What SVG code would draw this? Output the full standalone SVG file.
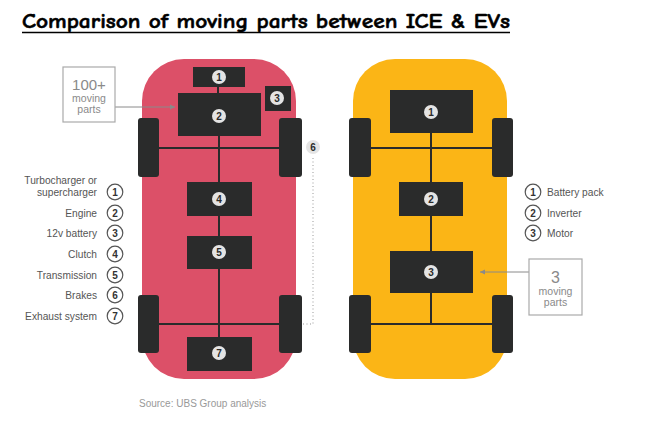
<svg xmlns="http://www.w3.org/2000/svg" width="653" height="435" viewBox="0 0 653 435">
<defs>
<style>
.title{font-family:"Comic Sans MS","Comic Neue","DejaVu Sans",sans-serif;font-weight:bold;font-size:20px;fill:#000;stroke:#000;stroke-width:0.5}
.blk{fill:#2a2b2b}
.whl{fill:#2a2b2b}
.ln{stroke:#2a2b2b;stroke-width:2;fill:none}
.ic{fill:#e4e4e4}
.it{font-family:"Liberation Sans",Arial,sans-serif;font-weight:bold;font-size:10px;fill:#2a2b2b;text-anchor:middle}
.lc{fill:#fff;stroke:#555;stroke-width:1.2}
.lt{font-family:"Liberation Sans",Arial,sans-serif;font-weight:bold;font-size:10px;fill:#333;text-anchor:middle}
.lab{font-family:"Liberation Sans",Arial,sans-serif;font-size:10.2px;fill:#555}
.note{font-family:"Liberation Sans",Arial,sans-serif;fill:#8a8a8a;text-anchor:middle}
.nbox{fill:#fff;stroke:#aaa;stroke-width:1.2}
.arr{stroke:#8a8a8a;stroke-width:1;fill:none}
</style>
<marker id="ah" viewBox="0 0 6 6" refX="5" refY="3" markerWidth="6" markerHeight="6" orient="auto">
<path d="M0,0.5 L5,3 L0,5.5 Z" fill="#8a8a8a"/>
</marker>
</defs>
<rect width="653" height="435" fill="#fff"/>
<g id="title">
<text class="title" x="22" y="28" textLength="488" lengthAdjust="spacingAndGlyphs">Comparison of moving parts between ICE &amp; EVs</text>
<line x1="22" y1="32.5" x2="510" y2="32.5" stroke="#000" stroke-width="1.5"/>
</g>

<g id="ice-car">
<rect x="142" y="59" width="154" height="320" rx="42" ry="42" fill="#dc5068"/>
</g>
<g id="ev-car">
<rect x="353" y="59" width="154" height="320" rx="42" ry="42" fill="#fbb516"/>
</g>

<g id="connectors">
<line class="ln" x1="218" y1="87" x2="218" y2="93"/>
<line class="ln" x1="219" y1="136" x2="219" y2="337"/>
<line class="ln" x1="159" y1="148" x2="279" y2="148"/>
<line class="ln" x1="159" y1="324" x2="279" y2="324"/>
<line class="ln" x1="431" y1="133" x2="431" y2="324"/>
<line class="ln" x1="371" y1="148" x2="492" y2="148"/>
<line class="ln" x1="371" y1="324" x2="492" y2="324"/>
<path d="M313,158 V324 H303" stroke="#999" stroke-width="1" stroke-dasharray="1,2.5" fill="none"/>
<line class="arr" x1="115" y1="107" x2="175" y2="107" marker-end="url(#ah)"/>
<line class="arr" x1="529" y1="272" x2="480" y2="272" marker-end="url(#ah)"/>
</g>

<g id="ice-wheels">
<rect class="whl" x="138" y="118" width="21" height="59" rx="3"/>
<rect class="whl" x="279" y="118" width="23" height="59" rx="3"/>
<rect class="whl" x="138" y="295" width="21" height="58" rx="3"/>
<rect class="whl" x="279" y="295" width="23" height="58" rx="3"/>
</g>
<g id="ice-1"><rect class="blk" x="193" y="67" width="52" height="20"/><circle class="ic" cx="219" cy="77" r="7"/><text class="it" x="219" y="80.5">1</text></g>
<g id="ice-2"><rect class="blk" x="178" y="93" width="83" height="43"/><circle class="ic" cx="219" cy="116" r="7"/><text class="it" x="219" y="119.5">2</text></g>
<g id="ice-3"><rect class="blk" x="265" y="86" width="26" height="25"/><circle class="ic" cx="277" cy="98" r="7"/><text class="it" x="277" y="101.5">3</text></g>
<g id="ice-4"><rect class="blk" x="187" y="182" width="65" height="34"/><circle class="ic" cx="219" cy="199" r="7"/><text class="it" x="219" y="202.5">4</text></g>
<g id="ice-5"><rect class="blk" x="187" y="236" width="65" height="33"/><circle class="ic" cx="219" cy="252" r="7"/><text class="it" x="219" y="255.5">5</text></g>
<g id="ice-7"><rect class="blk" x="187" y="337" width="65" height="34"/><circle class="ic" cx="219" cy="353" r="7"/><text class="it" x="219" y="356.5">7</text></g>
<g id="ice-6"><circle class="ic" cx="313" cy="147" r="7"/><text class="it" x="313" y="150.5">6</text></g>

<g id="ev-wheels">
<rect class="whl" x="349" y="118" width="22" height="59" rx="3"/>
<rect class="whl" x="492" y="118" width="21" height="59" rx="3"/>
<rect class="whl" x="349" y="295" width="22" height="58" rx="3"/>
<rect class="whl" x="492" y="295" width="21" height="58" rx="3"/>
</g>
<g id="ev-1"><rect class="blk" x="390" y="90" width="83" height="43"/><circle class="ic" cx="431" cy="112" r="7"/><text class="it" x="431" y="115.5">1</text></g>
<g id="ev-2"><rect class="blk" x="399" y="182" width="64" height="34"/><circle class="ic" cx="431" cy="199" r="7"/><text class="it" x="431" y="202.5">2</text></g>
<g id="ev-3"><rect class="blk" x="390" y="251" width="83" height="42"/><circle class="ic" cx="431" cy="272" r="7"/><text class="it" x="431" y="275.5">3</text></g>

<g id="note-100">
<rect class="nbox" x="63" y="67" width="52" height="55"/>
<text class="note" x="89" y="90" font-size="15">100+</text>
<text class="note" x="89" y="101.5" font-size="10.5">moving</text>
<text class="note" x="89" y="112.5" font-size="10.5">parts</text>
</g>
<g id="note-3">
<rect class="nbox" x="529" y="259" width="53" height="56"/>
<text class="note" x="555.5" y="283" font-size="16">3</text>
<text class="note" x="555.5" y="294.5" font-size="10.5">moving</text>
<text class="note" x="555.5" y="305.5" font-size="10.5">parts</text>
</g>

<g id="legend-ice">
<text class="lab" x="97" y="184" text-anchor="end">Turbocharger or</text>
<text class="lab" x="97" y="195.5" text-anchor="end">supercharger</text>
<circle class="lc" cx="115" cy="192" r="7.8"/><text class="lt" x="115" y="195.5">1</text>
<text class="lab" x="97" y="216.5" text-anchor="end">Engine</text>
<circle class="lc" cx="115" cy="213" r="7.8"/><text class="lt" x="115" y="216.5">2</text>
<text class="lab" x="97" y="236.5" text-anchor="end">12v battery</text>
<circle class="lc" cx="115" cy="233" r="7.8"/><text class="lt" x="115" y="236.5">3</text>
<text class="lab" x="97" y="257.5" text-anchor="end">Clutch</text>
<circle class="lc" cx="115" cy="254" r="7.8"/><text class="lt" x="115" y="257.5">4</text>
<text class="lab" x="97" y="278.5" text-anchor="end">Transmission</text>
<circle class="lc" cx="115" cy="275" r="7.8"/><text class="lt" x="115" y="278.5">5</text>
<text class="lab" x="97" y="298.5" text-anchor="end">Brakes</text>
<circle class="lc" cx="115" cy="295" r="7.8"/><text class="lt" x="115" y="298.5">6</text>
<text class="lab" x="97" y="319.5" text-anchor="end">Exhaust system</text>
<circle class="lc" cx="115" cy="316" r="7.8"/><text class="lt" x="115" y="319.5">7</text>
</g>
<g id="legend-ev">
<circle class="lc" cx="533" cy="192" r="7.8"/><text class="lt" x="533" y="195.5">1</text>
<text class="lab" x="547" y="195.5">Battery pack</text>
<circle class="lc" cx="533" cy="213" r="7.8"/><text class="lt" x="533" y="216.5">2</text>
<text class="lab" x="547" y="216.5">Inverter</text>
<circle class="lc" cx="533" cy="233" r="7.8"/><text class="lt" x="533" y="236.5">3</text>
<text class="lab" x="547" y="236.5">Motor</text>
</g>
<g id="source">
<text x="139" y="407" font-family="Liberation Sans, Arial, sans-serif" font-size="10px" fill="#999">Source: UBS Group analysis</text>
</g>
</svg>
